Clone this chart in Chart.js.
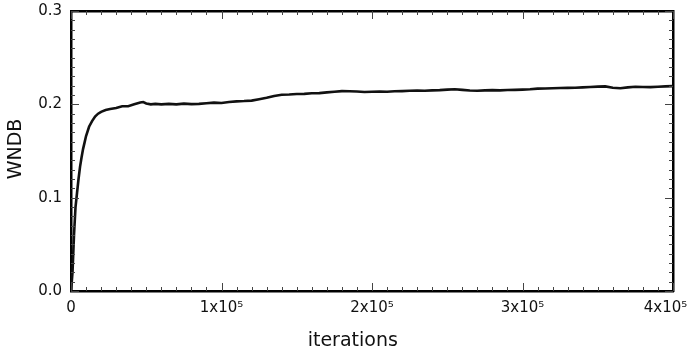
<!DOCTYPE html>
<html>
<head>
<meta charset="utf-8">
<script src="https://cdn.jsdelivr.net/npm/chart.js@4/dist/chart.umd.min.js"></script>
<style>
  body { margin: 0; background: #fff; }
  canvas { display: block; }
</style>
</head>
<body>
<canvas id="wndb-chart" width="689" height="358"></canvas>
<script>
// iterations (x) and WNDB (y)
var iterations = [
    0, 1000, 2000, 3000, 4000, 5000, 6000, 7000, 8000, 9000,
    10000, 12000, 14000, 16000, 18000, 20000, 23000, 26000, 30000, 34000,
    38000, 42000, 46000, 48000, 50000, 53000, 56000, 60000, 65000, 70000,
    75000, 80000, 85000, 90000, 95000, 100000, 105000, 110000, 115000, 120000,
    125000, 130000, 135000, 140000, 145000, 150000, 155000, 160000, 165000, 170000,
    175000, 180000, 185000, 190000, 195000, 200000, 205000, 210000, 215000, 220000,
    225000, 230000, 235000, 240000, 245000, 250000, 255000, 260000, 265000, 270000,
    275000, 280000, 285000, 290000, 295000, 300000, 305000, 310000, 315000, 320000,
    325000, 330000, 335000, 340000, 345000, 350000, 355000, 360000, 365000, 370000,
    375000, 380000, 385000, 390000, 395000, 400000
];
var wndb = [
    0, 0.02, 0.06, 0.09, 0.105, 0.12, 0.133, 0.143, 0.152, 0.159,
    0.166, 0.176, 0.182, 0.187, 0.19, 0.192, 0.194, 0.195, 0.196, 0.198,
    0.198, 0.2, 0.202, 0.2025, 0.201, 0.2, 0.2005, 0.2, 0.2005, 0.2,
    0.2008, 0.2002, 0.2005, 0.2012, 0.2018, 0.2015, 0.2025, 0.2032, 0.2035, 0.204,
    0.2055, 0.207, 0.209, 0.2102, 0.2105, 0.211, 0.2112, 0.2118, 0.212, 0.2128,
    0.2135, 0.2142, 0.214, 0.2138, 0.2132, 0.2135, 0.2138, 0.2135, 0.214, 0.2142,
    0.2145, 0.2148, 0.2145, 0.215, 0.2152, 0.2158, 0.2162, 0.2155, 0.2148, 0.2145,
    0.215, 0.2152, 0.215, 0.2153, 0.2155, 0.2158, 0.2162, 0.2168, 0.217, 0.2172,
    0.2175, 0.2176, 0.2178, 0.2182, 0.2186, 0.219, 0.2192, 0.2178, 0.2172, 0.2182,
    0.2188, 0.2185, 0.2184, 0.2188, 0.2192, 0.2195
];
var xTicks = [0, 100000, 200000, 300000, 400000];
// last label is pushed left a little in the original, hence the trailing spaces
var xTickLabels = ['0', '1x10\u2075', '2x10\u2075', '3x10\u2075', '4x10\u2075\u2002\u2002'];
var yTicks = [0, 0.1, 0.2, 0.3];
var yTickLabels = ['0.0', '0.1', '0.2', '0.3'];
var xTitle = 'iterations';
var yTitle = 'WNDB';

var FONT = "'DejaVu Sans', Verdana, sans-serif";

function fixSize(prop, size) {
    return function(scale) {
        scale[prop] = size;
        scale.paddingLeft = 0;
        scale.paddingRight = 0;
        scale.paddingTop = 0;
        scale.paddingBottom = 0;
    };
}

// small inward tick marks on all four sides, plus the two axis titles
var framePlugin = {
    id: 'frame',
    afterDatasetsDraw: function(chart) {
        var ctx = chart.ctx, a = chart.chartArea;
        var sx = chart.scales.x, sy = chart.scales.y;
        ctx.save();
        ctx.strokeStyle = '#444';
        ctx.lineWidth = 1;
        ctx.beginPath();
        for (var i = 0; i <= 40; i++) {
            var px = Math.round(sx.getPixelForValue(i * 10000)) + 0.5;
            var len = (i % 10 === 0) ? 8 : 4;
            ctx.moveTo(px, a.bottom); ctx.lineTo(px, a.bottom - len);
            ctx.moveTo(px, a.top); ctx.lineTo(px, a.top + len);
        }
        for (var j = 0; j <= 30; j++) {
            var py = Math.round(sy.getPixelForValue(j / 100)) + 0.5;
            var l2 = (j % 10 === 0) ? 8 : 4;
            ctx.moveTo(a.left, py); ctx.lineTo(a.left + l2, py);
            ctx.moveTo(a.right, py); ctx.lineTo(a.right - l2, py);
        }
        ctx.stroke();

        ctx.fillStyle = '#111';
        ctx.font = '19px ' + FONT;
        ctx.textAlign = 'center';
        ctx.textBaseline = 'middle';
        ctx.fillText(xTitle, a.left + (a.right - a.left) * 0.468, 341);
        ctx.translate(16, (a.top + a.bottom) / 2 - 2);
        ctx.rotate(-Math.PI / 2);
        ctx.fillText(yTitle, 0, 0);
        ctx.restore();
    }
};

var ctx = document.getElementById('wndb-chart').getContext('2d');
var points = iterations.map(function(it, i) { return { x: it, y: wndb[i] }; });

var myChart = new Chart(ctx, {
    type: 'line',
    data: {
        datasets: [{
            label: yTitle,
            data: points,
            borderColor: '#111',
            borderWidth: 2.6,
            pointRadius: 0,
            tension: 0,
            fill: false
        }]
    },
    options: {
        responsive: false,
        animation: false,
        devicePixelRatio: 1,
        layout: { padding: 0 },
        plugins: {
            legend: { display: false },
            tooltip: { enabled: false }
        },
        scales: {
            x: {
                type: 'linear',
                position: 'bottom',
                min: 0,
                max: 400000,
                afterFit: fixSize('height', 67),
                afterBuildTicks: function(scale) {
                    scale.ticks = xTicks.map(function(v) { return { value: v }; });
                },
                grid: { display: false, drawTicks: false },
                border: { display: true, color: '#000', width: 2.5 },
                ticks: {
                    autoSkip: false,
                    maxRotation: 0,
                    padding: 8,
                    color: '#111',
                    font: { family: FONT, size: 15 },
                    callback: function(v) { return xTickLabels[xTicks.indexOf(v)]; }
                }
            },
            x2: {
                type: 'linear',
                position: 'top',
                min: 0,
                max: 400000,
                afterFit: fixSize('height', 11),
                grid: { display: false, drawTicks: false },
                border: { display: true, color: '#000', width: 2.5 },
                ticks: { display: false }
            },
            y: {
                type: 'linear',
                position: 'left',
                min: 0,
                max: 0.3,
                afterFit: fixSize('width', 71),
                afterBuildTicks: function(scale) {
                    scale.ticks = yTicks.map(function(v) { return { value: v }; });
                },
                grid: { display: false, drawTicks: false },
                border: { display: true, color: '#000', width: 2.5 },
                ticks: {
                    autoSkip: false,
                    padding: 9,
                    color: '#111',
                    font: { family: FONT, size: 15 },
                    callback: function(v) { return yTickLabels[yTicks.indexOf(v)]; }
                }
            },
            y2: {
                type: 'linear',
                position: 'right',
                min: 0,
                max: 0.3,
                afterFit: fixSize('width', 16),
                grid: { display: false, drawTicks: false },
                border: { display: true, color: '#000', width: 2.5 },
                ticks: { display: false }
            }
        }
    },
    plugins: [framePlugin]
});
</script>
</body>
</html>
